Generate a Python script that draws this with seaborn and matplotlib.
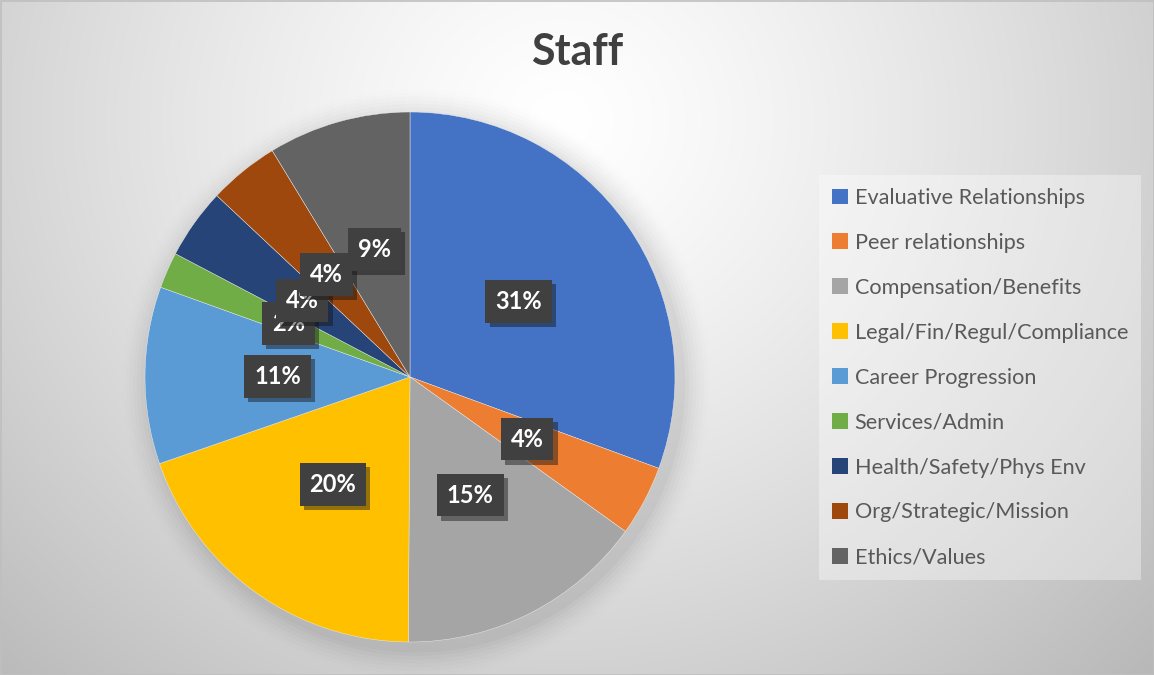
import numpy as np
import matplotlib
matplotlib.use("Agg")
import matplotlib.pyplot as plt
import matplotlib.patheffects as pe
from matplotlib.patches import Patch, Circle
import seaborn as sns

# ---- data ----
categories = ["Evaluative Relationships", "Peer relationships", "Compensation/Benefits",
              "Legal/Fin/Regul/Compliance", "Career Progression", "Services/Admin",
              "Health/Safety/Phys Env", "Org/Strategic/Mission", "Ethics/Values"]
shares = [30.6, 4.3, 15.2, 19.6, 10.8, 2.2, 4.3, 4.3, 8.7]
colors = ["#4472C4", "#ED7D31", "#A5A5A5", "#FFC000", "#5B9BD5",
          "#70AD47", "#264478", "#9E480E", "#636363"]
title = "Staff"

sns.set_theme(style="white")
plt.rcParams["font.family"] = ["Lato", "DejaVu Sans"]
palette = sns.color_palette(colors)

W, H = 1154, 675
fig = plt.figure(figsize=(W / 100, H / 100), dpi=100)

# background radial gradient
bg = fig.add_axes([0, 0, 1, 1])
yy, xx = np.mgrid[0:H, 0:W]
cx, cy = 560, 120
d = np.sqrt(((xx - cx) / 700.0) ** 2 + ((yy - cy) / 650.0) ** 2)
val = 1.0 - 0.22 * np.clip(d, 0, 1.2) ** 1.3
img = np.dstack([val, val, val])
bg.imshow(img, extent=[0, W, H, 0], aspect="auto", zorder=0)
bg.set_xlim(0, W)
bg.set_ylim(H, 0)
bg.axis("off")
bg.add_patch(plt.Rectangle((0.5, 0.5), W - 1, H - 1, fill=False, edgecolor="#bfbfbf", lw=1.2))

# pie axes
pcx, pcy, R = 410, 377, 265
ax = fig.add_axes([(pcx - R) / W, (H - pcy - R) / H, 2 * R / W, 2 * R / H])
ax.set_facecolor("none")

# soft shadow
for i, a in enumerate(np.linspace(0.05, 0.012, 8)):
    c = Circle((0.025, -0.025), 1.0 + 0.014 * (i + 1), color="black", alpha=a * 0.45, lw=0, zorder=0)
    c.set_clip_on(False)
    ax.add_patch(c)

wedges, texts, autotexts = ax.pie(
    shares, colors=palette, startangle=90, counterclock=False,
    autopct="%1.0f%%", pctdistance=0.5, radius=1.0,
    wedgeprops=dict(linewidth=0.3, edgecolor="#f0f0f0"),
    textprops=dict(color="white", fontsize=17, fontweight="bold"),
)
for w in wedges:
    w.set_zorder(2)
for t in autotexts:
    t.set_zorder(5)
    t.set_bbox(dict(boxstyle="square,pad=0.42", facecolor="#404040", edgecolor="none"))
    t.get_bbox_patch().set_path_effects([pe.SimplePatchShadow(offset=(3, -3), alpha=0.45), pe.Normal()])
ax.set_xlim(-1, 1)
ax.set_ylim(-1, 1)
ax.set_aspect("equal")
ax.axis("off")

fig.text(0.5, 1 - 52 / H, title, ha="center", va="center", fontsize=31,
         fontweight="bold", color="#404040")

handles = [Patch(facecolor=c, edgecolor="none") for c in palette]
leg = fig.legend(handles, categories, loc="upper left",
                 bbox_to_anchor=(819 / W, 1 - 175 / H), frameon=True,
                 fontsize=15.6, labelspacing=1.15, handlelength=0.75, handleheight=0.75,
                 handletextpad=0.3, borderpad=0.6, borderaxespad=0, fancybox=False)
leg.get_frame().set_facecolor("white")
leg.get_frame().set_alpha(0.35)
leg.get_frame().set_edgecolor("none")
for t in leg.get_texts():
    t.set_color("#595959")

fig.savefig("out.png", dpi=100)
